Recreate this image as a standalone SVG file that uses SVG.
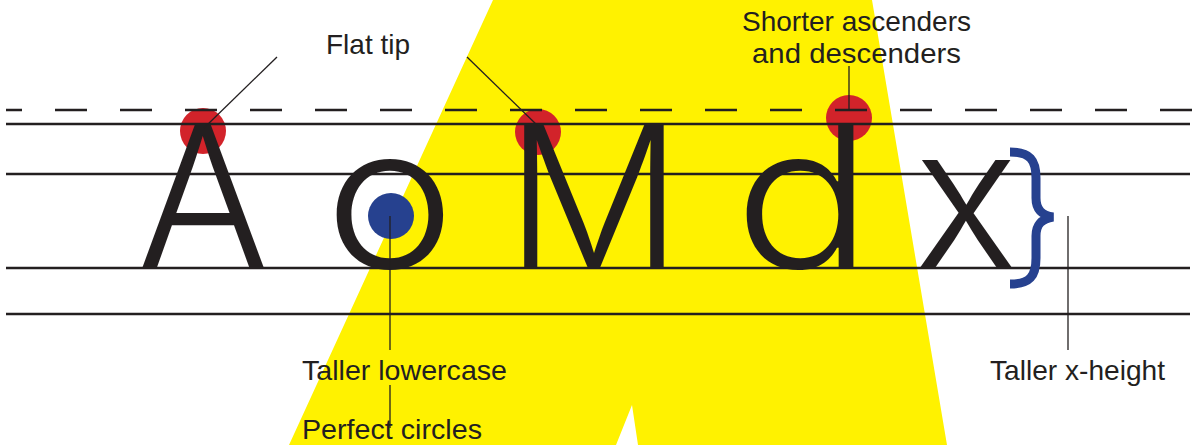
<svg xmlns="http://www.w3.org/2000/svg" width="1199" height="445" viewBox="0 0 1199 445">
<style>
.rule{stroke:#231f20;stroke-width:2.5;fill:none}
.lead{stroke:#231f20;stroke-width:1.3;fill:none}
.big{font-family:Inter,"Liberation Sans",sans-serif;font-weight:300;font-size:197px;fill:#231f20;text-anchor:middle}
.lbl{font-family:"Liberation Sans",Arial,sans-serif;font-size:28px;fill:#231f20}
.red{fill:#d2232a}
.blue{fill:#26418f}
</style>
<rect width="1199" height="445" fill="#ffffff"/>
<polygon id="bg-a" points="493,0 872,0 947,445 638,445 632,405 616,445 289,445" fill="#fff200"/>
<g id="markers">
<circle class="red" cx="203" cy="131" r="23"/>
<circle class="red" cx="538" cy="132" r="23"/>
<circle class="red" cx="849" cy="118" r="23"/>
</g>
<g id="guides">
<line class="rule" x1="6" y1="110" x2="1192" y2="110" stroke-dasharray="32 33" stroke-dashoffset="16"/>
<line class="rule" x1="6" y1="124" x2="1190" y2="124"/>
<line class="rule" x1="6" y1="174" x2="1190" y2="174"/>
<line class="rule" x1="6" y1="268" x2="1190" y2="268"/>
<line class="rule" x1="6" y1="314" x2="1190" y2="314"/>
</g>
<g id="letters">
<text id="letter-A" class="big" x="203" y="268">A</text>
<text id="letter-o" class="big" x="390" y="268" transform="translate(390,0) scale(1.12,1) translate(-390,0)">o</text>
<text id="letter-M" class="big" x="594" y="268">M</text>
<text id="letter-d" class="big" x="803" y="268" transform="translate(800,0) scale(1.17,1) translate(-800,0)">d</text>
<text id="letter-x" class="big" x="966" y="268">x</text>
</g>
<circle id="dot" class="blue" cx="391" cy="216" r="23"/>
<path id="brace" d="M1010,152 C1030,152 1036,160 1036,178 L1036,198 C1036,210 1042,215 1053,217 C1042,219 1036,224 1036,236 L1036,258 C1036,276 1030,284 1010,284" fill="none" stroke="#26418f" stroke-width="9"/>
<g id="connectors">
<line class="lead" x1="277" y1="57" x2="204" y2="128"/>
<line class="lead" x1="467" y1="57" x2="540" y2="128"/>
<line class="lead" x1="849" y1="66" x2="849" y2="110"/>
<line class="lead" x1="390" y1="216" x2="390" y2="350"/>
<line class="lead" x1="390" y1="385" x2="390" y2="428"/>
<line class="lead" x1="1068" y1="216" x2="1068" y2="350"/>
</g>
<g id="labels">
<text class="lbl" x="326" y="54" textLength="84" lengthAdjust="spacingAndGlyphs">Flat tip</text>
<text class="lbl" x="742" y="31" textLength="229" lengthAdjust="spacingAndGlyphs">Shorter ascenders</text>
<text class="lbl" x="752" y="63" textLength="209" lengthAdjust="spacingAndGlyphs">and descenders</text>
<text class="lbl" x="302" y="380" textLength="205" lengthAdjust="spacingAndGlyphs">Taller lowercase</text>
<text class="lbl" x="302" y="439" textLength="180" lengthAdjust="spacingAndGlyphs">Perfect circles</text>
<text class="lbl" x="990" y="380" textLength="175" lengthAdjust="spacingAndGlyphs">Taller x-height</text>
</g>
</svg>
